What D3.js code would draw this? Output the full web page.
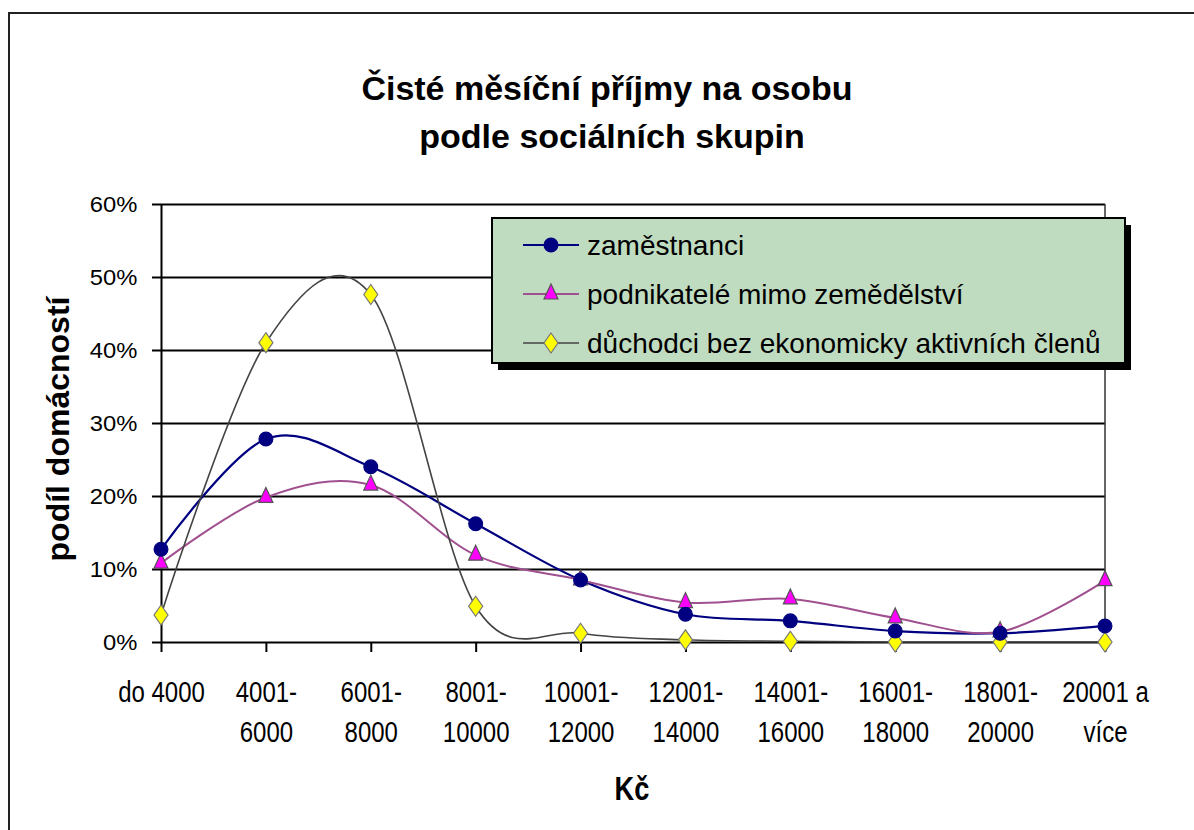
<!DOCTYPE html>
<html>
<head>
<meta charset="utf-8">
<script src="https://cdn.jsdelivr.net/npm/d3@7"></script>
<style>
  body { margin: 0; background: #fff; }
  svg { display: block; }
  text { font-family: "Liberation Sans", Arial, sans-serif; fill: #000; }
</style>
</head>
<body>
<div id="chart"></div>
<script>
// kategorie prijmu (Kc)
var categories = ['do 4000', '4001-6000', '6001-8000', '8001-10000', '10001-12000',
	'12001-14000', '14001-16000', '16001-18000', '18001-20000', '20001 a více']
var categoryLines = [['do 4000'], ['4001-', '6000'], ['6001-', '8000'], ['8001-', '10000'],
	['10001-', '12000'], ['12001-', '14000'], ['14001-', '16000'], ['16001-', '18000'],
	['18001-', '20000'], ['20001 a', 'více']]

var seriesNames = ['zaměstnanci', 'podnikatelé mimo zemědělství', 'důchodci bez ekonomicky aktivních členů']

// podil domacnosti v %
var zamestnanci = [12.7, 27.8, 24.0, 16.2, 8.5, 3.8, 2.9, 1.5, 1.2, 2.2]
var podnikatele = [10.8, 19.8, 21.5, 11.9, 8.5, 5.4, 5.9, 3.3, 1.4, 8.4]
var duchodci = [3.7, 41.0, 47.6, 4.9, 1.2, 0.3, 0.1, 0.0, 0.0, 0.0]

var yTicks = [0, 10, 20, 30, 40, 50, 60]

var width = 1194, height = 830
var margin = { top: 204, bottom: 188, left: 161, right: 89 }
var plotW = width - margin.left - margin.right
var plotH = height - margin.top - margin.bottom

var svg = d3.select('#chart').append('svg')
	.attr('width', width)
	.attr('height', height)

// ramecek grafu
svg.append('rect')
	.attr('x', 9).attr('y', 13)
	.attr('width', 1300).attr('height', 900)
	.attr('fill', 'none')
	.attr('stroke', '#222')
	.attr('stroke-width', 2)

function label(parent, str, x, y, size, sx, opts) {
	opts = opts || {}
	return parent.append('text')
		.attr('transform', 'translate(' + x + ',' + y + ')' + (opts.rotate ? ' rotate(' + opts.rotate + ')' : '') + ' scale(' + sx + ',1)')
		.attr('text-anchor', opts.anchor || 'middle')
		.style('font-size', size + 'px')
		.style('font-weight', opts.bold ? 'bold' : 'normal')
		.text(str)
}

label(svg, 'Čisté měsíční příjmy na osobu', 607, 100, 34, 1.0, { bold: true })
label(svg, 'podle sociálních skupin', 612, 148, 34, 1.0, { bold: true })

var xScale = d3.scalePoint()
	.domain(categories)
	.range([0, plotW])

var yScale = d3.scaleLinear()
	.domain([0, 60])
	.range([plotH, 0])

var g = svg.append('g')
	.attr('transform', 'translate(' + margin.left + ',' + margin.top + ')')

// mrizka
g.append('g')
	.attr('class', 'grid')
	.call(d3.axisLeft(yScale).tickValues(yTicks.slice(1)).tickSize(-plotW).tickFormat(''))
	.call(function(s) {
		s.select('.domain').remove()
		s.selectAll('line').attr('stroke', '#000').attr('stroke-width', 2)
	})

// pravy okraj plochy
g.append('line')
	.attr('x1', plotW).attr('x2', plotW)
	.attr('y1', 0).attr('y2', plotH)
	.attr('stroke', '#333')
	.attr('stroke-width', 1.5)

var yAxis = g.append('g')
	.call(d3.axisLeft(yScale).tickValues(yTicks).tickSize(9).tickSizeOuter(0).tickPadding(13)
		.tickFormat(function(d) { return d + '%' }))
yAxis.selectAll('line, path').attr('stroke', '#000').attr('stroke-width', 2)
yAxis.selectAll('text')
	.attr('transform', 'scale(1.08,1)')
	.attr('dy', '0.36em')
	.style('font-size', '22px')
	.style('font-family', '"Liberation Sans", Arial, sans-serif')

var xAxis = g.append('g')
	.attr('transform', 'translate(0,' + plotH + ')')
	.call(d3.axisBottom(xScale).tickSize(10).tickSizeOuter(0).tickFormat(''))
xAxis.selectAll('line, path').attr('stroke', '#000').attr('stroke-width', 2)
xAxis.selectAll('.tick').each(function(d, i) {
	var t = d3.select(this)
	categoryLines[i].forEach(function(line, j) {
		label(t, line, 0, 60 + j * 40, 30, 0.8)
	})
})

// osy - popisky
label(svg, 'Kč', 632, 800, 34, 0.8, { bold: true })
label(svg, 'podíl domácností', 69, 429, 32, 1, { bold: true, rotate: -90 })

// krivky
var series = [
	{ name: seriesNames[0], values: zamestnanci, color: '#000080', width: 2.2, marker: 'circle', fill: '#000080', stroke: '#000080' },
	{ name: seriesNames[1], values: podnikatele, color: '#a0508f', width: 2, marker: 'triangle', fill: '#ff00ff', stroke: '#555' },
	{ name: seriesNames[2], values: duchodci, color: '#444', width: 1.6, marker: 'diamond', fill: '#ffff00', stroke: '#777' }
]

var line = d3.line()
	.x(function(d, i) { return xScale(categories[i]) })
	.y(function(d) { return yScale(d) })
	.curve(d3.curveCatmullRom.alpha(0))

function markerPath(type) {
	if (type === 'circle') return d3.symbol().type(d3.symbolCircle).size(150)()
	if (type === 'triangle') return 'M0,-10 L7,5 L-7,5 Z'
	return 'M0,-10 L7,0 L0,10 L-7,0 Z'
}

series.forEach(function(s) {
	g.append('path')
		.datum(s.values)
		.attr('fill', 'none')
		.attr('stroke', s.color)
		.attr('stroke-width', s.width)
		.attr('d', line)
})

series.slice().reverse().forEach(function(s) {
	g.selectAll('.m-' + s.marker).data(s.values)
		.enter().append('path')
		.attr('class', 'm-' + s.marker)
		.attr('transform', function(d, i) { return 'translate(' + xScale(categories[i]) + ',' + yScale(d) + ')' })
		.attr('d', markerPath(s.marker))
		.attr('fill', s.fill)
		.attr('stroke', s.stroke)
		.attr('stroke-width', 1.2)
})

// legenda
var legend = svg.append('g').attr('transform', 'translate(492,218)')
legend.append('rect')
	.attr('x', 6).attr('y', 7)
	.attr('width', 633).attr('height', 145)
	.attr('fill', '#000')
legend.append('rect')
	.attr('width', 633).attr('height', 145)
	.attr('fill', '#c0dcc0')
	.attr('stroke', '#000')
	.attr('stroke-width', 2)

series.forEach(function(s, i) {
	var row = legend.append('g').attr('transform', 'translate(0,' + (27 + i * 49) + ')')
	row.append('line')
		.attr('x1', 31).attr('x2', 87)
		.attr('stroke', s.color)
		.attr('stroke-width', s.width)
	row.append('path')
		.attr('transform', 'translate(59,0)')
		.attr('d', markerPath(s.marker))
		.attr('fill', s.fill)
		.attr('stroke', s.stroke)
		.attr('stroke-width', 1.2)
	label(row, s.name, 95, 10, 28, 1, { anchor: 'start' })
})
</script>
</body>
</html>
